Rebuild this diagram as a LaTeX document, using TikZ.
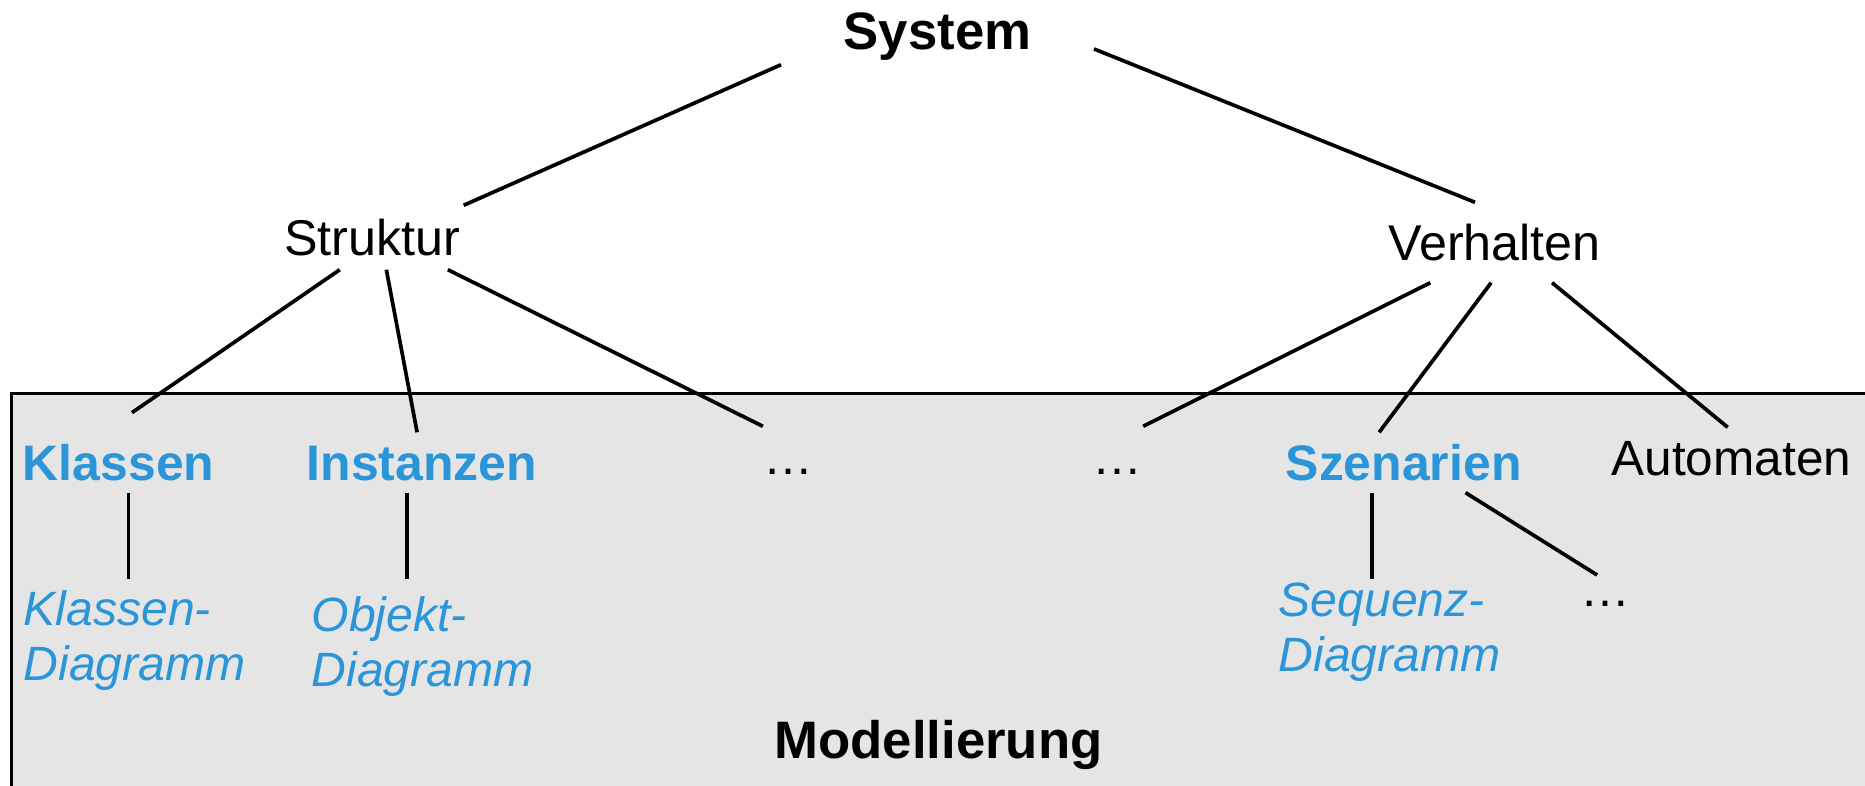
\documentclass[tikz,border=0pt]{standalone}
\usepackage{fontspec}
\setmainfont{Liberation Sans}
\usetikzlibrary{calc}

\definecolor{modblue}{HTML}{2A95D8}
\definecolor{modgray}{HTML}{E5E5E5}

\tikzset{
	branch/.style={line width=1.05pt},
	level/.style={anchor=base, inner xsep=0pt, inner ysep=0.12cm, text height=0.35cm, text depth=0pt, font=\fontsize{14.1}{16}\selectfont},
	concept/.style={level, text=modblue, font=\bfseries\fontsize{14.2}{16}\selectfont},
	dots/.style={level, font=\fontsize{14.2}{16}\selectfont},
	diagram/.style={anchor=north west, align=left, inner xsep=0pt, text=modblue, font=\itshape\fontsize{13.7}{15.65}\selectfont},
}

\begin{document}
\begin{tikzpicture}
		\useasboundingbox (0,0) rectangle (18.65,-7.85);
		\filldraw[fill=modgray, line width=1.1pt] (0.115,-3.935) rectangle (19.2,-8.3);
		
		\node[anchor=base, inner xsep=0.62cm, inner ysep=0.14cm, text height=0.35cm, text depth=0pt, font=\bfseries\fontsize{15}{18}\selectfont] (sys) at (9.375,-0.50) {System};
		
		\node[anchor=base, inner xsep=0.03cm, inner ysep=0.14cm, text height=0.35cm, text depth=0pt, font=\fontsize{14.3}{17}\selectfont] (struk) at (3.72,-2.55) {Struktur};
		\node[anchor=base, inner xsep=0pt, inner ysep=0.22cm, text height=0.35cm, text depth=0pt, font=\fontsize{14.3}{17}\selectfont] (verh) at (14.946,-2.60) {Verhalten};
		
		\node[concept] (kla) at (1.186,-4.80) {Klassen};
		\node[concept] (inst) at (4.219,-4.80) {Instanzen};
		\node[dots] (dl) at (7.885,-4.74) {…};
		\node[dots] (dm) at (11.175,-4.74) {…};
		\node[concept] (szen) at (14.036,-4.80) {Szenarien};
		\node[level] (aut) at (17.314,-4.75) {Automaten};
		
		\node[diagram, inner ysep=0.11cm] (kd) at (0.23,-5.793) {Klassen-\\Diagramm};
		\node[diagram, inner ysep=0.17cm] (od) at (3.11,-5.793) {Objekt-\\Diagramm};
		\node[diagram, inner ysep=0.025cm] (sd) at (12.78,-5.793) {Sequenz-\\Diagramm};
		\node[dots] (dr) at (16.056,-6.067) {…};
		
		\node[anchor=base, font=\bfseries\fontsize{15}{18}\selectfont] (model) at (9.385,-7.58) {Modellierung};
		
		\draw[branch] (sys.south west) -- (struk.north east);
		\draw[branch] (sys.-6) -- (verh.116);
		
		\draw[branch] (struk.225) -- ([shift={(0.134,0.197)}]kla.north);
		\draw[branch] (struk.294) -- (inst.99);
		\draw[branch] (struk.337) -- (dl.north west);
		
		\draw[branch] (verh.212) -- (dm.north east);
		\draw[branch] (verh.265) -- (szen.129);
		\draw[branch] (verh.325) -- (aut.97);
		
		\draw[branch] (kla.288) -- (kla.288 |- kd.north);
		\draw[branch] (inst.244) -- (inst.244 |- od.north);
		\draw[branch] (szen.224) -- (szen.224 |- sd.north);
		\draw[branch] (szen.334) -- ([shift={(-0.085,-0.16)}]dr.north);

	\end{tikzpicture}
\end{document}
